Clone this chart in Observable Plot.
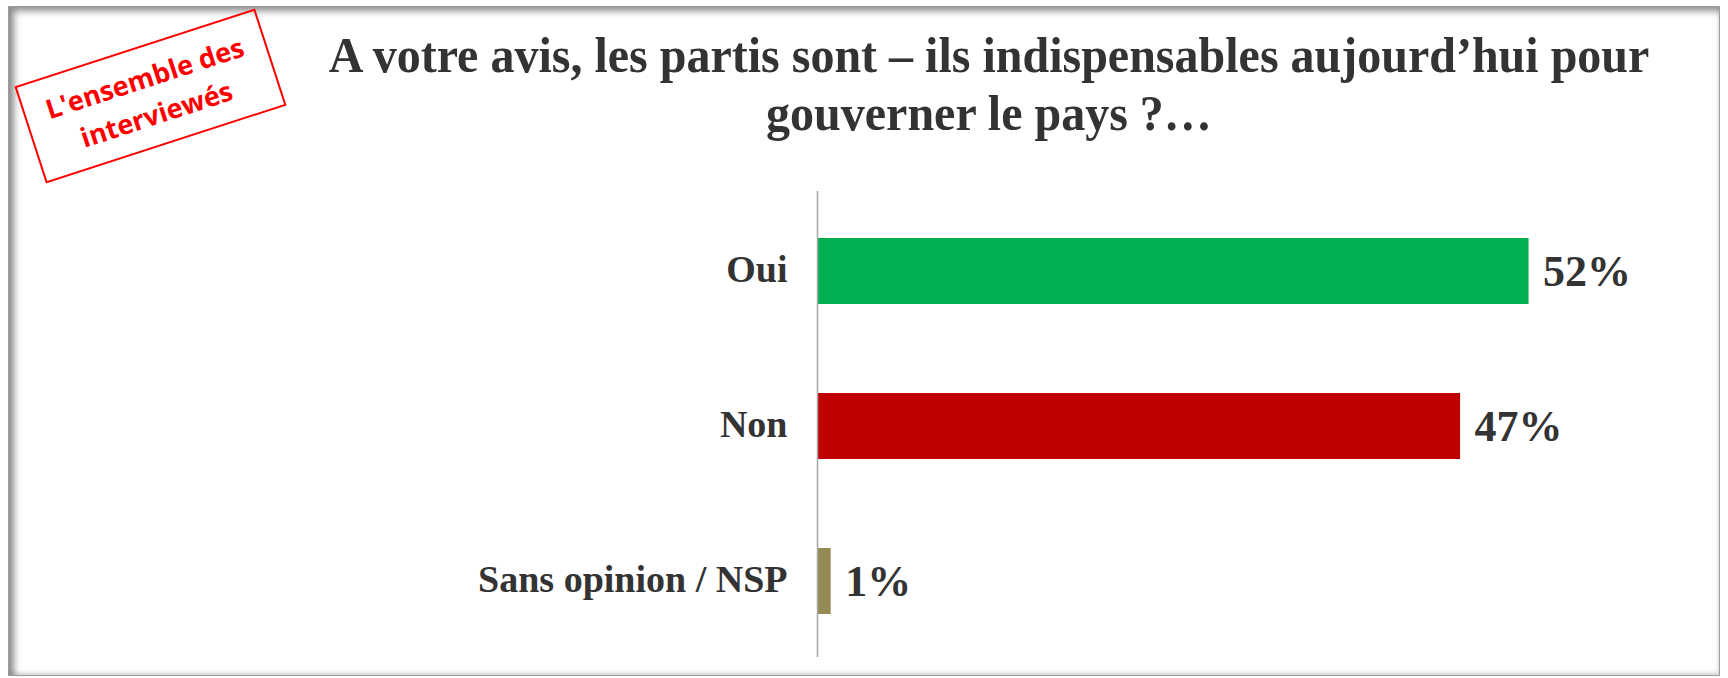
<!DOCTYPE html>
<html><head><meta charset="utf-8">
<script src="https://cdn.jsdelivr.net/npm/d3@7"></script>
<script src="https://cdn.jsdelivr.net/npm/@observablehq/plot@0.6"></script>
<style>
html,body{margin:0;padding:0;background:#fff;}
#wrap{position:relative;width:1728px;height:678px;overflow:hidden;}
#frame{position:absolute;left:8px;top:6px;width:1710px;height:668px;border:1px solid #9c9c9c;box-shadow: inset 5px 4px 7px rgba(0,0,0,0.45), inset -1px -3px 4px rgba(0,0,0,0.12);}
#title{position:relative;height:180px;}
#title h1{position:absolute;left:294px;width:1390px;top:26px;margin:0;text-align:center;font:bold 48px/56px 'Liberation Serif','Times New Roman',serif;color:#333;transform:scaleY(1.04);transform-origin:50% 0;}
#stamp{position:absolute;left:23.5px;top:45px;width:249px;height:98px;border:2px solid #ff0000;transform:rotate(-18deg);display:flex;flex-direction:column;align-items:center;justify-content:center;color:#ff0000;font:bold 27px/38px 'Open Sans',sans-serif;background:transparent;}
#chart{position:relative;}
</style></head>
<body>
<div id="wrap">
  <div id="frame"></div>
  <div id="title"><h1>A votre avis, les partis sont – ils indispensables aujourd’hui pour<br>gouverner le pays ?…</h1></div>
  <div id="stamp"><div>L'ensemble des</div><div>interviewés</div></div>
  <div id="chart"></div>
</div>
<script>
const categories = ["Oui", "Non", "Sans opinion / NSP"];
const values = [52, 47, 1];
const barColors = ["#00B050", "#C00000", "#948A54"];

const data = categories.map((c, i) => ({cat: c, value: values[i]}));

const chart = Plot.plot({
  width: 1728,
  height: 498,
  marginTop: 11,
  marginBottom: 21,
  marginLeft: 817,
  marginRight: 90,
  x: {domain: [0, 60], axis: null},
  y: {domain: categories, paddingInner: 0.574, paddingOuter: 0.29, label: null},
  color: {domain: categories, range: barColors},
  style: {background: "transparent", fontFamily: "'Liberation Serif','Times New Roman',serif", fontWeight: "bold", color: "#333", overflow: "visible"},
  marks: [
    Plot.barX(data, {x: "value", y: "cat", fill: "cat", dy: 2}),
    Plot.ruleX([0], {stroke: "#a6a6a6", strokeWidth: 1.5}),
    Plot.axisY({tickSize: 0, tickPadding: 30, fontSize: 38, label: null}),
    Plot.text(data, {x: "value", y: "cat", text: d => d.value + "%", dx: 14, dy: 2, textAnchor: "start", fontSize: 44, fill: "#333"})
  ]
});
document.getElementById("chart").appendChild(chart);
</script>
</body></html>
